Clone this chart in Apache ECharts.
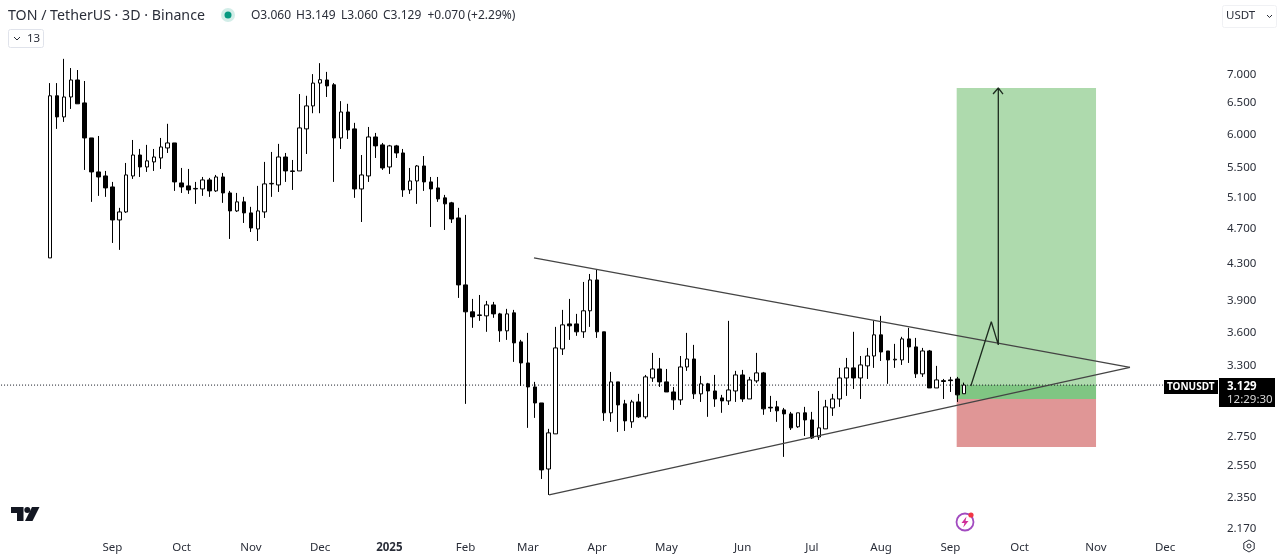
<!DOCTYPE html>
<html>
<head>
<meta charset="utf-8">
<title>TON / TetherUS</title>
<style>
html,body{margin:0;padding:0;background:#fff}
#chart{width:1280px;height:559px}
</style>
<script src="https://cdn.jsdelivr.net/npm/echarts@6/dist/echarts.min.js"></script>
</head>
<body>
<div id="chart"></div>
<script>
var opens = [4.344,6.60,6.25,6.58,6.875,6.48,5.92,5.423,5.367,5.217,4.791,4.891,5.367,5.665,5.493,5.565,5.622,5.769,5.844,5.271,5.231,5.19,5.19,5.312,5.164,5.353,5.137,4.904,5.02,4.879,4.681,4.891,5.258,5.244,5.636,5.437,5.437,6.06,6.43,6.82,6.875,6.79,5.92,6.33,6.06,5.19,5.367,5.935,5.815,5.493,5.80,5.695,5.177,5.298,5.507,5.285,5.204,5.072,5.007,4.816,4.052,3.78,3.75,3.741,3.848,3.76,3.599,3.77,3.498,3.313,3.114,2.988,2.52,2.759,3.435,3.664,3.664,3.59,3.79,4.104,3.59,2.913,3.155,2.981,2.846,2.996,2.883,3.187,3.262,3.155,3.074,3.012,3.279,3.347,3.059,3.139,3.082,3.027,3.004,3.082,3.212,3.019,3.163,3.229,2.955,2.958,2.935,2.905,2.81,2.913,2.86,2.737,2.795,2.95,3.019,3.187,3.271,3.187,3.288,3.373,3.562,3.417,3.339,3.339,3.525,3.453,3.221,3.417,3.106,3.165,3.171,3.179,3.06];
var closes = [6.60,6.25,6.58,6.875,6.465,5.92,5.423,5.353,5.204,4.791,4.891,5.381,5.665,5.493,5.58,5.636,5.784,5.844,5.285,5.217,5.177,5.197,5.312,5.164,5.353,5.137,4.904,5.02,4.879,4.693,4.904,5.258,5.265,5.636,5.437,5.43,6.075,6.43,6.82,6.88,6.77,5.92,6.33,6.043,5.19,5.381,5.935,5.80,5.479,5.80,5.695,5.177,5.298,5.507,5.285,5.19,5.058,4.994,4.803,4.052,3.78,3.731,3.745,3.848,3.76,3.599,3.76,3.489,3.313,3.114,2.988,2.514,2.766,3.444,3.655,3.646,3.59,3.79,4.104,3.59,2.913,3.155,2.973,2.853,2.996,2.883,3.196,3.262,3.155,3.074,3.012,3.279,3.347,3.059,3.139,3.082,3.019,3.004,3.09,3.212,3.019,3.171,3.229,2.943,2.95,2.928,2.905,2.802,2.913,2.86,2.73,2.802,2.958,3.019,3.187,3.271,3.187,3.296,3.373,3.562,3.408,3.339,3.345,3.525,3.453,3.221,3.417,3.106,3.171,3.158,3.165,3.051,3.129];
var lows = [4.344,6.06,6.17,6.38,6.465,5.451,5.02,5.098,5.085,4.515,4.435,4.879,5.326,5.353,5.423,5.437,5.465,5.695,5.164,5.137,5.124,4.994,5.098,5.085,5.15,5.007,4.562,4.891,4.754,4.645,4.538,4.816,5.085,5.15,5.285,5.177,5.437,5.68,6.31,6.31,6.58,5.285,5.754,5.905,5.072,4.766,5.285,5.622,5.451,5.395,5.622,5.085,5.124,4.994,5.164,4.705,5.02,4.669,4.754,3.918,2.981,3.627,3.693,3.59,3.722,3.498,3.516,3.322,3.122,2.802,2.875,2.456,2.357,2.759,3.382,3.516,3.553,3.534,3.636,3.534,2.853,2.846,2.773,2.78,2.802,2.875,2.868,3.155,3.114,3.074,2.935,2.973,3.246,3.019,2.996,2.883,2.958,2.913,2.973,2.996,2.996,3.019,3.147,2.898,2.92,2.846,2.6,2.787,2.802,2.744,2.723,2.716,2.795,2.89,2.958,3.043,3.098,3.019,3.179,3.271,3.33,3.139,3.271,3.296,3.313,3.187,3.196,3.106,3.106,3.019,3.074,2.996,3.06];
var highs = [6.82,6.82,7.26,7.09,7.054,6.857,5.92,5.95,5.437,5.285,4.943,5.55,5.889,5.754,5.815,5.754,5.92,6.14,5.844,5.479,5.465,5.285,5.353,5.34,5.381,5.409,5.164,5.137,5.085,4.956,5.231,5.565,5.71,5.83,5.695,5.593,6.63,6.60,6.98,7.18,7.02,6.82,6.51,6.465,6.155,5.665,6.09,5.997,5.844,5.815,5.815,5.754,5.479,5.52,5.65,5.353,5.353,5.111,5.02,4.943,4.854,3.908,3.948,3.888,3.878,3.77,3.809,3.799,3.516,3.58,3.155,2.988,2.795,3.636,3.799,3.908,3.76,4.083,4.168,4.212,3.59,3.237,3.155,3.012,3.012,3.059,3.212,3.40,3.356,3.262,3.114,3.373,3.58,3.471,3.204,3.147,3.212,3.051,3.693,3.246,3.254,3.196,3.40,3.237,3.043,3.004,2.95,2.92,2.913,2.958,2.92,3.082,3.012,3.059,3.271,3.356,3.59,3.373,3.444,3.693,3.741,3.417,3.48,3.544,3.627,3.534,3.444,3.426,3.288,3.179,3.196,3.196,3.149];

var priceTicks = [7, 6.5, 6, 5.5, 5.1, 4.7, 4.3, 3.9, 3.6, 3.3, 2.75, 2.55, 2.35, 2.17];
var monthBars = [9,19,29,39,49,60,69,79,89,100,110,120,130,140,151,161];
var monthNames = ['Sep','Oct','Nov','Dec','2025','Feb','Mar','Apr','May','Jun','Jul','Aug','Sep','Oct','Nov','Dec'];

// drawings on the chart, as [bar, price]
var upperTrend = [[69.88,4.344],[155.93,3.275]];
var lowerTrend = [[72.05,2.357],[155.93,3.275]];
var projection = [[132.95,3.122],[135.91,3.684],[136.92,3.471],[136.92,6.734],[136.16,6.63],[136.92,6.734],[137.6,6.63]];
// last price line, as [bar from, bar to, price]
var lastPriceLine = [[-7.5,160.8,3.129]];
// position zones, as [bar from, bar to, price top, price bottom]
var zones = [[130.91,151.03,6.734,3.019],[130.91,151.03,3.129,3.019],[130.91,151.03,3.019,2.667]];
var zoneColors = ['#aedaad','#80c683','#e09696'];
var legendParts = [[251,'O3.060'],[296,'H3.149'],[341,'L3.060'],[383,'C3.129'],[427.5,'+0.070'],[467.5,'(+2.29%)']];

var BAR_COUNT = 170;
var categories = [];
for (var i = 0; i < BAR_COUNT; i++) {
    categories.push(new Date(Date.UTC(2024, 7, 5 + i * 3)).toISOString().slice(0, 10));
}
var candles = [];
for (var j = 0; j < opens.length; j++) {
    candles.push([opens[j], closes[j], lows[j], highs[j]]);
}

var FONT = '"Noto Sans", sans-serif';
var TEXT = '#2a2e39';

function text(x, y, str, size, fill, weight) {
    return {type: 'text', x: x, y: y, z: 50, style: {text: str, fill: fill || TEXT, font: (weight || 'normal') + ' ' + size + 'px ' + FONT, textVerticalAlign: 'middle'}};
}
function box(x, y, w, h, fill, stroke, r) {
    return {type: 'rect', z: 49, shape: {x: x, y: y, width: w, height: h, r: r || 0}, style: {fill: fill, stroke: stroke || null, lineWidth: 1}};
}
function poly(points, fill) {
    return {type: 'polygon', z: 50, shape: {points: points}, style: {fill: fill}};
}
function lineOf(name, data, color, width, z) {
    return {
        name: name, type: 'line', xAxisIndex: 1, yAxisIndex: 0, data: data, symbol: 'none', clip: false, silent: true, z: z || 5,
        lineStyle: {color: color, width: width}
    };
}

var graphics = [
    text(8, 15.5, 'TON / TetherUS · 3D · Binance', 14.2, TEXT),
    {type: 'circle', z: 49, shape: {cx: 228, cy: 15, r: 7}, style: {fill: 'rgba(8,153,129,0.18)'}},
    {type: 'circle', z: 50, shape: {cx: 228, cy: 15, r: 3.5}, style: {fill: '#089981'}},
    box(8.5, 29.5, 35, 18, '#ffffff', '#e0e3eb', 2),
    {type: 'polyline', z: 50, shape: {points: [[14, 37], [17, 40], [20, 37]]}, style: {stroke: TEXT, fill: null, lineWidth: 1}},
    text(27, 39, '13', 11.5, TEXT),
    box(1222.5, 5.5, 54, 22, '#ffffff', '#f0f1f4', 2),
    text(1226, 16, 'USDT', 11.5, TEXT),
    {type: 'polyline', z: 50, shape: {points: [[1267, 15], [1269.5, 17.5], [1272, 15]]}, style: {stroke: TEXT, fill: null, lineWidth: 1}},
    box(1164, 380, 54, 14, '#000000'),
    text(1167, 387.5, 'TONUSDT', 10, '#ffffff', 'bold'),
    box(1219, 378, 56, 29, '#000000'),
    text(1227, 386.5, '3.129', 11.5, '#ffffff', 'bold'),
    text(1227, 399.5, '12:29:30', 11.5, '#d8d8d8'),
    // tradingview mark
    poly([[11, 507], [23.5, 507], [23.5, 521], [17, 521], [17, 513], [11, 513]], '#131722'),
    {type: 'circle', z: 50, shape: {cx: 27.3, cy: 510, r: 3}, style: {fill: '#131722'}},
    poly([[32, 507], [39.5, 507], [32.5, 521], [25, 521]], '#131722'),
    // flash icon
    {type: 'circle', z: 50, shape: {cx: 965, cy: 522, r: 8.5}, style: {fill: 'none', stroke: '#a24bc0', lineWidth: 1.8}},
    poly([[966.5, 516.5], [961.5, 523], [964.5, 523], [963.2, 527.5], [968.5, 521], [965.5, 521]], '#d0309a'),
    {type: 'circle', z: 51, shape: {cx: 971, cy: 515, r: 2.6}, style: {fill: '#f23645'}},
    // settings
    {type: 'polygon', z: 50, shape: {points: [[1249, 540], [1254.2, 543], [1254.2, 549], [1249, 552], [1243.8, 549], [1243.8, 543]]}, style: {fill: 'none', stroke: TEXT, lineWidth: 1}},
    {type: 'circle', z: 50, shape: {cx: 1249, cy: 546, r: 2}, style: {fill: 'none', stroke: TEXT, lineWidth: 1}}
];
legendParts.forEach(function (p) {
    graphics.push(text(p[0], 15.5, p[1], 12, TEXT));
});

var chart = echarts.init(document.getElementById('chart'));
chart.setOption({
    animation: false,
    backgroundColor: '#ffffff',
    grid: {left: 46.537, top: 30, width: 1177.42, height: 505},
    xAxis: [{
        type: 'category',
        data: categories,
        axisLine: {show: false},
        axisTick: {show: false},
        splitLine: {show: false},
        axisLabel: {
            margin: 7, fontFamily: FONT, fontSize: 11.5, color: TEXT, showMinLabel: true, showMaxLabel: true, hideOverlap: false,
            interval: function (idx) { return monthBars.indexOf(idx) >= 0; },
            formatter: function (v) {
                var k = monthBars.indexOf(categories.indexOf(v));
                if (k < 0) return '';
                return monthNames[k] === '2025' ? '{b|2025}' : monthNames[k];
            },
            rich: {b: {fontWeight: 'bold', fontFamily: FONT, fontSize: 11.5, color: TEXT}}
        }
    }, {
        type: 'value', min: -0.5, max: BAR_COUNT - 0.5, show: false, splitLine: {show: false}
    }],
    yAxis: {
        type: 'log', position: 'right', min: 2.1254, max: 7.821, logBase: 10,
        axisLine: {show: false},
        axisTick: {show: false},
        splitLine: {show: false},
        minorTick: {show: false},
        minorSplitLine: {show: false},
        axisLabel: {
            customValues: priceTicks, margin: 3, fontFamily: FONT, fontSize: 11.5, color: TEXT,
            formatter: function (v) { return '{p|' + (+v).toFixed(3) + '}'; },
            rich: {p: {fontFamily: FONT, fontSize: 11.5, color: TEXT, padding: [3, 0, 0, 0]}}
        }
    },
    series: [{
        name: 'zones', type: 'custom', xAxisIndex: 1, yAxisIndex: 0, silent: true, z: 1,
        data: zones,
        encode: {x: [0, 1], y: [2, 3]},
        renderItem: function (params, api) {
            var a = api.coord([api.value(0), api.value(2)]);
            var b = api.coord([api.value(1), api.value(3)]);
            return {type: 'rect', shape: {x: a[0], y: a[1], width: b[0] - a[0], height: b[1] - a[1]}, style: {fill: zoneColors[params.dataIndex]}};
        }
    }, {
        name: 'last', type: 'custom', xAxisIndex: 1, yAxisIndex: 0, silent: true, z: 2,
        data: lastPriceLine,
        encode: {x: [0, 1], y: 2},
        renderItem: function (params, api) {
            var a = api.coord([api.value(0), api.value(2)]);
            var b = api.coord([api.value(1), api.value(2)]);
            return {type: 'line', shape: {x1: a[0], y1: a[1], x2: b[0], y2: b[1]}, style: {stroke: '#131722', lineWidth: 1, lineDash: [1, 2]}};
        }
    }, {
        name: 'TONUSDT', type: 'candlestick', data: candles, barWidth: 4, z: 3, silent: true,
        itemStyle: {color: '#ffffff', color0: '#000000', borderColor: '#000000', borderColor0: '#000000', borderWidth: 1}
    },
        lineOf('upper', upperTrend, '#444444', 1.3),
        lineOf('lower', lowerTrend, '#444444', 1.3),
        lineOf('projection', projection, '#1d2b1f', 1.3)
    ],
    graphic: graphics
});
</script>
</body>
</html>
